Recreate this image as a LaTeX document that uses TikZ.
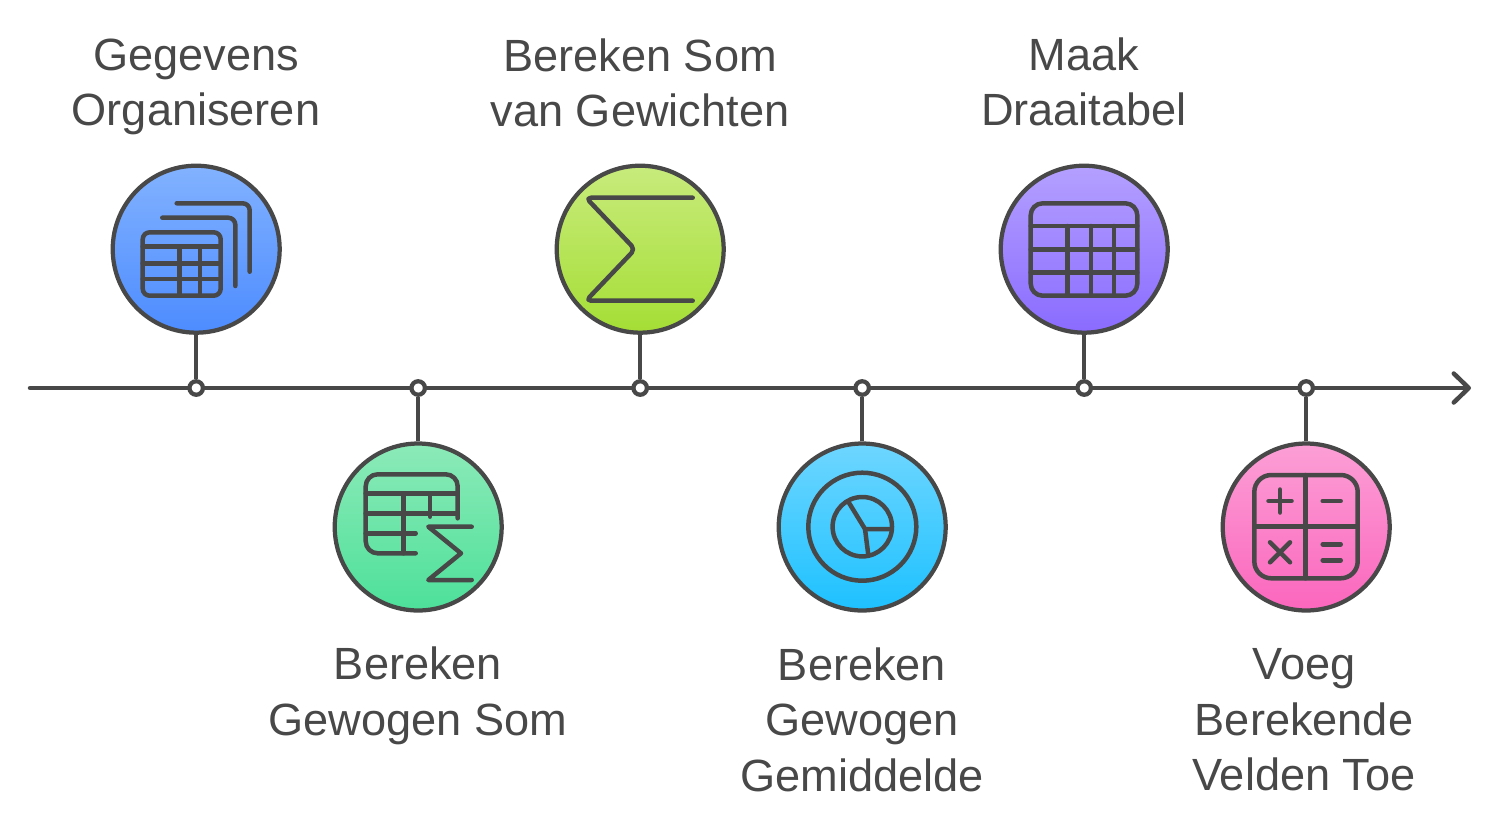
\documentclass[tikz,border=0pt]{standalone}
\usepackage{fontspec}
\setmainfont{Liberation Sans}
\usetikzlibrary{arrows.meta}
\definecolor{inkgray}{HTML}{484848}
\definecolor{blueT}{HTML}{82B2FF}
\definecolor{blueB}{HTML}{4D8CFF}
\definecolor{greenT}{HTML}{8CEAB8}
\definecolor{greenB}{HTML}{4DE09A}
\definecolor{limeT}{HTML}{C8EB7C}
\definecolor{limeB}{HTML}{A5DE35}
\definecolor{cyanT}{HTML}{6ED6FF}
\definecolor{cyanB}{HTML}{1DC1FF}
\definecolor{violetT}{HTML}{B4A0FF}
\definecolor{violetB}{HTML}{8A6BFF}
\definecolor{pinkT}{HTML}{FC9FD6}
\definecolor{pinkB}{HTML}{FB66BD}
\tikzset{
	stepdisc/.style={circle, draw=inkgray, line width=0.085cm, minimum size=3.34cm, inner sep=0pt},
	stepdot/.style={circle, draw=inkgray, fill=white, line width=0.085cm, minimum size=0.27cm, inner sep=0pt},
	steptext/.style={text=inkgray, align=center, font=\fontsize{25.7}{31.6}\selectfont},
	icon/.style={draw=inkgray, line width=0.09cm, line cap=round, line join=round},
	link/.style={draw=inkgray, line width=0.09cm}
}

\begin{document}
\begin{tikzpicture}[x=0.02cm, y=-0.02cm]
			%%%%% START %%%%%
			\useasboundingbox (0, 0) rectangle (1500, 832);
			
			\coordinate (axisstart) at (30, 388);
			\coordinate (axisend) at (1471, 388);
			\draw[link, line cap=round, -{Straight Barb[length=0.3cm, width=0.58cm, round]}] (axisstart) -- (axisend);
			
			\node[stepdisc, top color=blueT, bottom color=blueB] (discA) at (196.2, 249.2) {};
			\node[stepdisc, top color=greenT, bottom color=greenB] (discB) at (418.2, 527) {};
			\node[stepdisc, top color=limeT, bottom color=limeB] (discC) at (640.2, 249.2) {};
			\node[stepdisc, top color=cyanT, bottom color=cyanB] (discD) at (862.2, 527) {};
			\node[stepdisc, top color=violetT, bottom color=violetB] (discE) at (1084.2, 249.2) {};
			\node[stepdisc, top color=pinkT, bottom color=pinkB] (discF) at (1306.2, 527) {};
			
			\node[stepdot] (dotA) at (196.2, 388) {};
			\node[stepdot] (dotB) at (418.2, 388) {};
			\node[stepdot] (dotC) at (640.2, 388) {};
			\node[stepdot] (dotD) at (862.2, 388) {};
			\node[stepdot] (dotE) at (1084.2, 388) {};
			\node[stepdot] (dotF) at (1306.2, 388) {};
			
			\draw[link] (discA) -- (dotA);
			\draw[link] (discB) -- (dotB);
			\draw[link] (discC) -- (dotC);
			\draw[link] (discD) -- (dotD);
			\draw[link] (discE) -- (dotE);
			\draw[link] (discF) -- (dotF);
			
			\node[steptext] (textA) at (196, 87) {Gegevens\\Organiseren};
			\node[steptext] (textB) at (418, 696) {Bereken\\Gewogen Som};
			\node[steptext] (textC) at (640, 83) {Bereken Som\\van Gewichten};
			\node[steptext] (textD) at (862, 719.5) {Bereken\\Gewogen\\Gemiddelde};
			\node[steptext] (textE) at (1084, 82) {Maak\\Draaitabel};
			\node[steptext] (textF) at (1304, 720) {Voeg\\Berekende\\Velden Toe};
			
			% stacked tables
			\draw[icon, rounded corners=0.14cm] (142.7, 232.3) rectangle (220.7, 295.7);
			\draw[icon] (142.7, 246.7) -- (220.7, 246.7);
			\draw[icon] (142.7, 263.3) -- (220.7, 263.3);
			\draw[icon] (142.7, 279) -- (220.7, 279);
			\draw[icon] (179.3, 246.7) -- (179.3, 295.7);
			\draw[icon] (200, 246.7) -- (200, 295.7);
			\draw[icon, rounded corners=0.14cm] (162.3, 217.7) -- (235.3, 217.7) -- (235.3, 286);
			\draw[icon, rounded corners=0.14cm] (176.7, 203.3) -- (249.7, 203.3) -- (249.7, 271.7);
			
			% table with sum
			\draw[icon, rounded corners=0.24cm] (415.7, 553.3) -- (365.7, 553.3) -- (365.7, 474.3) -- (457.7, 474.3) -- (457.7, 518.3);
			\draw[icon] (365.7, 493.3) -- (457.7, 493.3);
			\draw[icon] (365.7, 513.3) -- (457.7, 513.3);
			\draw[icon] (365.7, 533.3) -- (415.7, 533.3);
			\draw[icon] (403.3, 493.3) -- (403.3, 553.3);
			\draw[icon] (430, 493.3) -- (430, 516.7);
			\draw[icon] (471.7, 526.7) -- (428.3, 526.7) -- (461, 553.3) -- (428.3, 580) -- (471.7, 580);
			
			% big sum
			\draw[icon, rounded corners=0.1cm] (692.7, 197.7) -- (586, 197.7) -- (635, 249.3) -- (586, 300.7) -- (692.7, 300.7);
			
			% pie in ring
			\draw[icon] (862.3, 526.7) circle (54);
			\draw[icon] (862.3, 526.7) circle (29.7);
			\draw[icon] (848.3, 501.7) -- (865, 529) -- (890, 529);
			\draw[icon] (865, 529) -- (868.3, 555);
			
			% big table
			\draw[icon, rounded corners=0.24cm] (1030.7, 203.3) rectangle (1137.3, 295.7);
			\draw[icon] (1030.7, 226) -- (1137.3, 226);
			\draw[icon] (1030.7, 249.3) -- (1137.3, 249.3);
			\draw[icon] (1030.7, 272.3) -- (1137.3, 272.3);
			\draw[icon] (1067.7, 226) -- (1067.7, 295.7);
			\draw[icon] (1091, 226) -- (1091, 295.7);
			\draw[icon] (1114, 226) -- (1114, 295.7);
			
			% calculator keys
			\draw[icon, rounded corners=0.34cm] (1254.3, 475) rectangle (1357.7, 578.3);
			\draw[icon] (1305.7, 475) -- (1305.7, 578.3);
			\draw[icon] (1254.3, 526.7) -- (1357.7, 526.7);
			\draw[icon] (1268.5, 501) -- (1291.5, 501);
			\draw[icon] (1280, 489.5) -- (1280, 512.5);
			\draw[icon] (1322.7, 501) -- (1340.7, 501);
			\draw[icon] (1270, 542.3) -- (1290, 562.3);
			\draw[icon] (1290, 542.3) -- (1270, 562.3);
			\draw[icon] (1322.7, 544.3) -- (1340.7, 544.3);
			\draw[icon] (1322.7, 560.3) -- (1340.7, 560.3);
			
			%%%%% END %%%%%
		\end{tikzpicture}
\end{document}
